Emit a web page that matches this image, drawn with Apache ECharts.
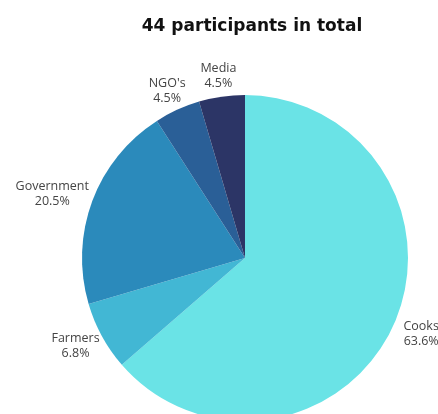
<!DOCTYPE html>
<html>
<head>
<meta charset="utf-8">
<script src="https://cdn.jsdelivr.net/npm/echarts@6/dist/echarts.min.js"></script>
<style>
  html, body { margin: 0; padding: 0; background: #fff; }
  #chart { width: 438px; height: 414px; }
</style>
</head>
<body>
<div id="chart"></div>
<script>
const categories = ["Cooks", "Farmers", "Government", "NGO's", "Media"];
const counts = [28, 3, 9, 2, 2];
const colors = ["#6ae3e6", "#42b7d4", "#2b8abb", "#2a5f97", "#2c3566"];

const total = counts.reduce((a, b) => a + b, 0);
const cx = 245, cy = 258, r = 163;

// mid angle of each slice (radians, counter-clockwise from +x), clockwise from 12 o'clock
let acc = 0;
const midAngles = counts.map((v) => {
    const mid = acc + v / 2;
    acc += v;
    return Math.PI / 2 - (mid / total) * 2 * Math.PI;
});

const chart = echarts.init(document.getElementById("chart"));
chart.setOption({
    animation: false,
    title: {
        text: total + " participants in total",
        left: 247,
        top: 13,
        textAlign: "center",
        textStyle: {
            fontFamily: "DejaVu Sans",
            fontWeight: "bold",
            fontSize: 17,
            color: "#111",
        },
    },
    series: [
        {
            type: "pie",
            center: [cx, cy],
            radius: r,
            startAngle: 90,
            clockwise: true,
            data: categories.map((name, i) => ({
                name: name,
                value: counts[i],
                itemStyle: { color: colors[i] },
            })),
            label: {
                show: true,
                position: "outside",
                formatter: (p) => p.name + "\n" + ((p.value / total) * 100).toFixed(1) + "%",
                fontFamily: "Open Sans",
                fontSize: 12.5,
                lineHeight: 15,
                color: "#444",
                overflow: "none",
            },
            labelLine: { show: false },
            labelLayout: (params) => {
                const a = midAngles[params.dataIndex];
                const w = params.labelRect.width, h = params.labelRect.height;
                const d = r + 6;
                return {
                    x: cx + d * Math.cos(a) + Math.cos(a) * w / 2,
                    y: cy - d * Math.sin(a) - Math.sin(a) * h / 2,
                    align: "center",
                    verticalAlign: "middle",
                };
            },
        },
    ],
});
</script>
</body>
</html>
